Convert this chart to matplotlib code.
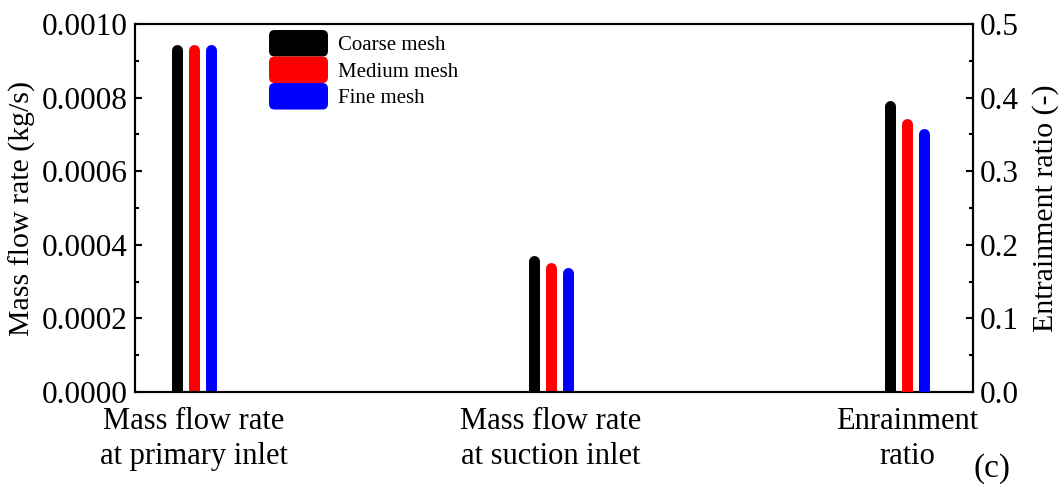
import matplotlib
matplotlib.use('Agg')
import matplotlib.pyplot as plt
import numpy as np
from matplotlib.patches import FancyBboxPatch
from matplotlib.legend_handler import HandlerBase
from matplotlib.ticker import MultipleLocator, FormatStrFormatter

plt.rcParams["font.family"] = "serif"
plt.rcParams['font.serif'] = ['Liberation Serif', 'DejaVu Serif']
plt.rcParams['font.size'] = 21

# mesh independence data
categories = ['Mass flow rate\nat primary inlet', 'Mass flow rate\nat suction inlet', 'Enrainment\nratio']
meshes = ['Coarse mesh', 'Medium mesh', 'Fine mesh']
colors = ['#000000', '#ff0000', '#0000ff']
mass_primary = [0.00093, 0.00093, 0.00093]      # kg/s
mass_suction = [0.000357, 0.000336, 0.000322]   # kg/s
entrainment = [0.388, 0.3635, 0.350]            # -

bar_lw = 7.9
offset = 0.0477


class RoundBoxHandler(HandlerBase):
    # legend key drawn as a rounded rectangle
    def create_artists(self, legend, orig_handle, xdescent, ydescent,
                       width, height, fontsize, trans):
        p = FancyBboxPatch((-xdescent, -ydescent), width, height,
                           boxstyle='round,pad=0,rounding_size=4',
                           facecolor=orig_handle.get_facecolor(),
                           edgecolor='none', transform=trans)
        return [p]


fig = plt.figure(figsize=(10.6, 4.97), dpi=100)
ax1 = fig.add_axes([0.1274, 0.2113, 0.7906, 0.7404])
ax2 = ax1.twinx()

x = np.arange(len(categories))
for i in range(3):
    xi = x + (i - 1) * offset
    ax1.vlines(xi[:2], 0, [mass_primary[i], mass_suction[i]], colors=colors[i],
               linewidth=bar_lw, capstyle='round', zorder=3)
    ax2.vlines(xi[2], 0, entrainment[i], colors=colors[i],
               linewidth=bar_lw, capstyle='round', zorder=3)

ax1.set_xlim(-0.1655, 2.1851)
ax1.set_ylim(0, 0.001)
ax2.set_ylim(0, 0.5)

ax1.set_xticks(x)
ax1.set_xticklabels(categories, fontsize=22, linespacing=1.25)
ax1.tick_params(axis='x', length=0, pad=11)

ax1.yaxis.set_major_locator(MultipleLocator(0.0002))
ax1.yaxis.set_minor_locator(MultipleLocator(0.0001))
ax1.yaxis.set_major_formatter(FormatStrFormatter('%.4f'))
ax2.yaxis.set_major_locator(MultipleLocator(0.1))
ax2.yaxis.set_minor_locator(MultipleLocator(0.05))
ax2.yaxis.set_major_formatter(FormatStrFormatter('%.1f'))

for ax in (ax1, ax2):
    ax.tick_params(axis='y', which='major', direction='in', length=5, width=1.5, pad=5, labelsize=22.5)
    ax.tick_params(axis='y', which='minor', direction='in', length=3, width=1.5)
    for s in ax.spines.values():
        s.set_linewidth(1.5)

ax1.set_ylabel('Mass flow rate (kg/s)', fontsize=21.5, va='center', ha='center')
ax1.yaxis.set_label_coords(-0.135, 0.5)
ax2.set_ylabel('Entrainment ratio (-)', fontsize=21.5, rotation=90, va='center', ha='center')
ax2.yaxis.set_label_coords(1.086, 0.5)

handles = [FancyBboxPatch((0, 0), 1, 1, facecolor=c) for c in colors]
ax1.legend(handles, meshes, handler_map={FancyBboxPatch: RoundBoxHandler()},
           loc='upper left', bbox_to_anchor=(0.2538, 0.9396),
           bbox_transform=fig.transFigure, frameon=False, fontsize=15,
           handlelength=2.83, handleheight=1.58, handletextpad=0.5,
           labelspacing=0.0, borderpad=0, borderaxespad=0)

fig.text(0.936, 0.058, '(c)', fontsize=24, ha='center', va='center')

plt.savefig('out.png', dpi=100)
